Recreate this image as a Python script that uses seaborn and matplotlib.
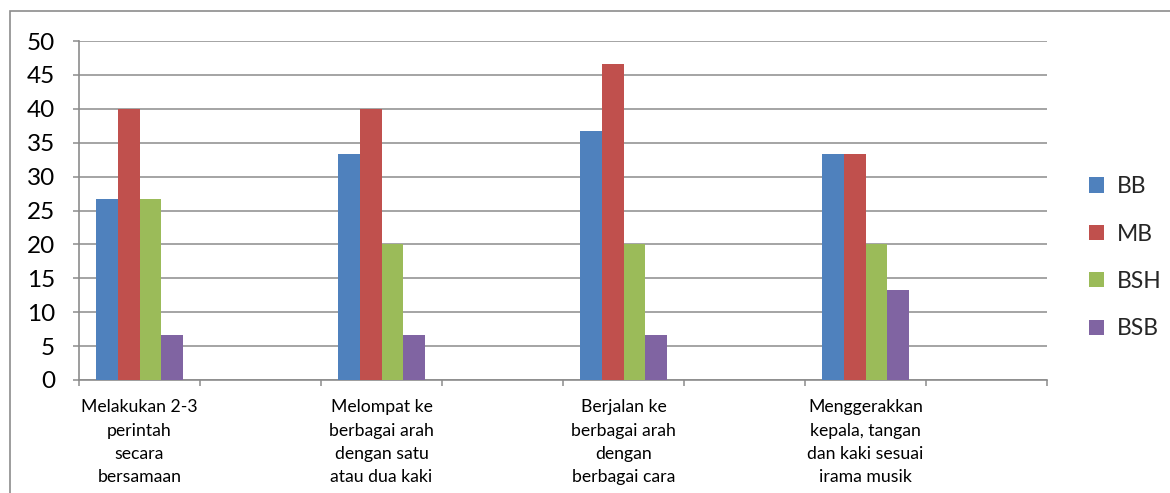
import matplotlib
matplotlib.use("Agg")
import matplotlib.pyplot as plt
from matplotlib.patches import Rectangle, Patch
import numpy as np
import pandas as pd
import seaborn as sns

# ---- data ----
categories = [
    "Melakukan 2-3\nperintah\nsecara\nbersamaan",
    "",
    "Melompat ke\nberbagai arah\ndengan satu\natau dua kaki",
    "",
    "Berjalan ke\nberbagai arah\ndengan\nberbagai cara",
    "",
    "Menggerakkan\nkepala, tangan\ndan kaki sesuai\nirama musik",
    "",
]
series = ["BB", "MB", "BSH", "BSB"]
bb = [26.67, None, 33.33, None, 36.67, None, 33.33, None]
mb = [40.0, None, 40.0, None, 46.67, None, 33.33, None]
bsh = [26.67, None, 20.0, None, 20.0, None, 20.0, None]
bsb = [6.67, None, 6.67, None, 6.67, None, 13.33, None]
yticks = [0, 5, 10, 15, 20, 25, 30, 35, 40, 45, 50]
colors = ["#4F81BD", "#C0504D", "#9BBB59", "#8064A2"]

rows = []
for name, vals in zip(series, [bb, mb, bsh, bsb]):
    for i, v in enumerate(vals):
        rows.append({"slot": i, "series": name, "value": np.nan if v is None else v})
df = pd.DataFrame(rows).dropna()

sns.set_theme(style="white")
plt.rcParams["font.family"] = ["Lato", "DejaVu Sans"]

W, H = 1170, 493
fig = plt.figure(figsize=(W / 100, H / 100), dpi=100)
ax = fig.add_axes([79 / W, 1 - 380 / H, (1047 - 79) / W, (380 - 41) / H])

sns.barplot(data=df, x="slot", y="value", hue="series", order=list(range(len(categories))),
            hue_order=series, palette=colors, width=0.72, errorbar=None,
            linewidth=0, saturation=1, ax=ax, legend=False, zorder=3)

grid_c = "#8C8C8C"
ax.set_ylim(0, 50)
ax.set_xlim(-0.5, len(categories) - 0.5)
ax.set_yticks(yticks)
ax.set_yticklabels([str(t) for t in yticks], fontsize=17.5, color="black")
ax.yaxis.grid(True, color=grid_c, linewidth=1.1, zorder=0)
ax.set_axisbelow(True)
ax.xaxis.grid(False)
for s in ["top", "right"]:
    ax.spines[s].set_visible(False)
for s in ["left", "bottom"]:
    ax.spines[s].set_color(grid_c)
    ax.spines[s].set_linewidth(1.2)
ax.tick_params(axis="y", direction="out", length=4.3, width=1.1, color=grid_c, pad=13, left=True)

ax.set_xticks(range(len(categories)))
ax.set_xticklabels(categories, fontsize=12.7, color="black", linespacing=1.55, va="top")
ax.set_xticks(np.arange(-0.5, len(categories), 1.0), minor=True)
ax.tick_params(axis="x", which="major", length=0, pad=14, bottom=True)
ax.tick_params(axis="x", which="minor", direction="out", length=4.3, width=1.1, color=grid_c, bottom=True)
ax.set_xlabel("")
ax.set_ylabel("")

handles = [Patch(facecolor=c, edgecolor="none", label=s) for s, c in zip(series, colors)]
fig.legend(handles=handles, loc="upper left", bbox_to_anchor=(1080 / W, 1 - 167 / H),
           frameon=False, fontsize=16.5, handlelength=0.65, handleheight=0.65,
           handletextpad=0.55, labelspacing=1.15, borderaxespad=0)

fig.patches.append(Rectangle((10 / W, -0.05), 1.2, 1 - 11 / H + 0.05, transform=fig.transFigure,
                             fill=False, edgecolor="#8C8C8C", linewidth=1.2))

fig.savefig("out.png", dpi=100)
